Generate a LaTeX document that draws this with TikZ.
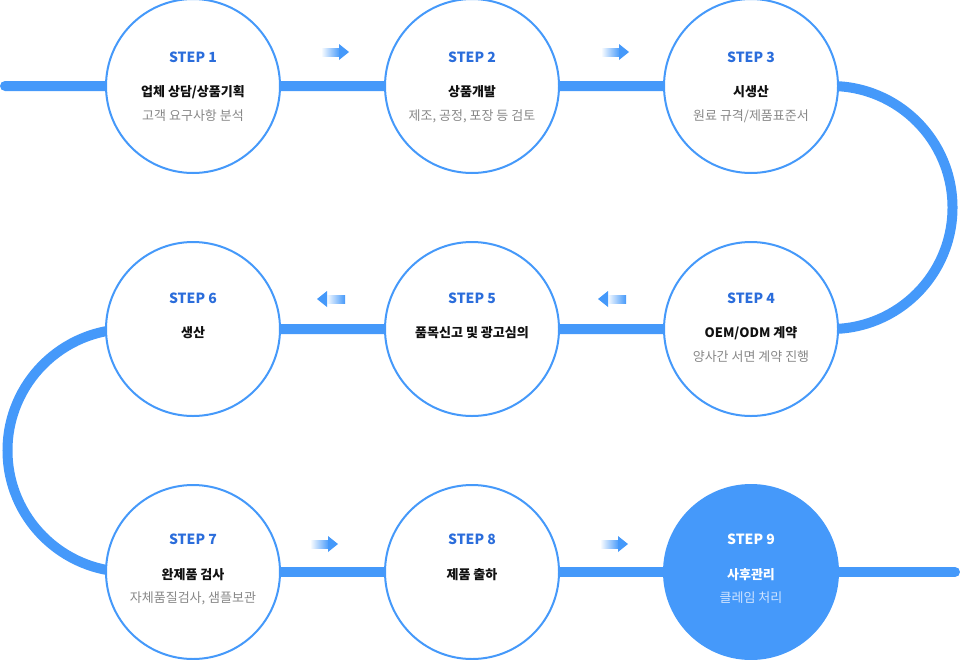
\documentclass[tikz,border=0pt]{standalone}
\usepackage{fontspec}
\setmainfont{Noto Sans CJK KR}
\usetikzlibrary{backgrounds}
\definecolor{flowblue}{HTML}{4599FA}
\definecolor{stepblue}{HTML}{2B6DDB}
\definecolor{subgray}{HTML}{888888}
\definecolor{titleblack}{HTML}{111111}
\definecolor{sublight}{HTML}{D2E5FF}
\tikzset{
  stepcircle/.style={circle, draw=flowblue, line width=2pt, fill=white, minimum size=174pt, inner sep=0pt},
  donecircle/.style={circle, draw=flowblue, line width=2pt, fill=flowblue, minimum size=174pt, inner sep=0pt},
  steplbl/.style={text=stepblue, font=\fontsize{14}{16}\selectfont\bfseries, inner sep=0pt},
  titlelbl/.style={text=titleblack, font=\fontsize{13}{15}\selectfont\bfseries, inner sep=0pt},
  sublbl/.style={text=subgray, font=\fontsize{13}{15}\selectfont, inner sep=0pt},
  flowline/.style={draw=flowblue, line width=10pt},
  flowarrow/.pic={
    \shade[left color=white, right color=flowblue] (0,-4) rectangle (19,4);
    \fill[flowblue] (18,-8) -- (28,0) -- (18,8) -- cycle;
  }
}
\begin{document}
\begin{tikzpicture}[x=1pt,y=-1pt]
\useasboundingbox (0,0) rectangle (960,659);
% circles
\node[stepcircle] (c1) at (193,86) {};
\node[stepcircle] (c2) at (472,86) {};
\node[stepcircle] (c3) at (751,86) {};
\node[stepcircle] (c4) at (751,329) {};
\node[stepcircle] (c5) at (472,329) {};
\node[stepcircle] (c6) at (193,329) {};
\node[stepcircle] (c7) at (193,572) {};
\node[stepcircle] (c8) at (472,572) {};
\node[donecircle] (c9) at (751,572) {};
% connectors
\coordinate (start) at (5,86);
\coordinate (rtop) at (831,86);
\coordinate (ltop) at (129,329);
\coordinate (finish) at (955,572);
\begin{scope}[on background layer]
\draw[flowline, line cap=round] (start) -- (c1.center) -- (c2.center) -- (c3.center) -- (rtop) arc[start angle=-90, end angle=90, radius=121.5] -- (c4.center);
\draw[flowline] (c4.center) -- (c5.center) -- (c6.center) -- (ltop) arc[start angle=-90, end angle=-270, radius=121.5] -- (c7.center);
\draw[flowline, line cap=round] (c7.center) -- (c8.center) -- (c9.center) -- (finish);
\end{scope}
% arrows
\pic at (321,52) {flowarrow};
\pic at (601,52) {flowarrow};
\pic[xscale=-1] at (345,299) {flowarrow};
\pic[xscale=-1] at (626,299) {flowarrow};
\pic at (310,544) {flowarrow};
\pic at (600,544) {flowarrow};
% texts
\path (c1) ++(0,-29) node[steplbl] (s1) {STEP 1}
      (c1) ++(0,6) node[titlelbl] (t1) {업체 상담/상품기획}
      (c1) ++(0,30) node[sublbl] (u1) {고객 요구사항 분석};
\path (c2) ++(0,-29) node[steplbl] (s2) {STEP 2}
      (c2) ++(0,6) node[titlelbl] (t2) {상품개발}
      (c2) ++(0,30) node[sublbl] (u2) {제조, 공정, 포장 등 검토};
\path (c3) ++(0,-29) node[steplbl] (s3) {STEP 3}
      (c3) ++(0,6) node[titlelbl] (t3) {시생산}
      (c3) ++(0,30) node[sublbl] (u3) {원료 규격/제품표준서};
\path (c4) ++(0,-31) node[steplbl] (s4) {STEP 4}
      (c4) ++(0,4) node[titlelbl] (t4) {OEM/ODM 계약}
      (c4) ++(0,28) node[sublbl] (u4) {양사간 서면 계약 진행};
\path (c5) ++(0,-31) node[steplbl] (s5) {STEP 5}
      (c5) ++(0,4) node[titlelbl] (t5) {품목신고 및 광고심의};
\path (c6) ++(0,-31) node[steplbl] (s6) {STEP 6}
      (c6) ++(0,4) node[titlelbl] (t6) {생산};
\path (c7) ++(0,-33) node[steplbl] (s7) {STEP 7}
      (c7) ++(0,3) node[titlelbl] (t7) {완제품 검사}
      (c7) ++(0,26) node[sublbl] (u7) {자체품질검사, 샘플보관};
\path (c8) ++(0,-33) node[steplbl] (s8) {STEP 8}
      (c8) ++(0,3) node[titlelbl] (t8) {제품 출하};
\path (c9) ++(0,-33) node[steplbl, text=white] (s9) {STEP 9}
      (c9) ++(0,3) node[titlelbl, text=white] (t9) {사후관리}
      (c9) ++(0,26) node[sublbl, text=sublight] (u9) {클레임 처리};
\end{tikzpicture}
\end{document}
